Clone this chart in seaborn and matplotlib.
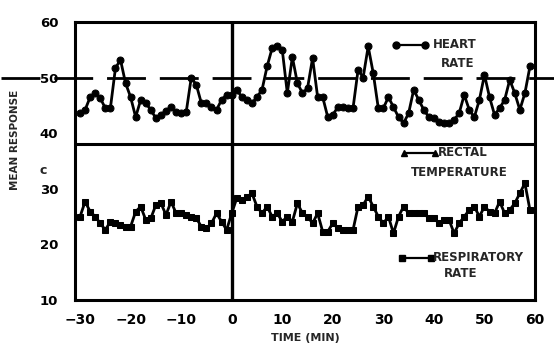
import matplotlib
matplotlib.use("Agg")
import matplotlib.pyplot as plt
import seaborn as sns
import pandas as pd

# minutes relative to start (min)
minutes = list(range(-30, 60))

# heart rate, -30..-1 then 0..59
heart_rate = [43.6, 44.2, 46.5, 47.2, 46.3, 44.5, 44.5, 51.7, 53.2, 49.0,
              46.5, 42.9, 46.0, 45.4, 44.2, 42.7, 43.3, 44.0, 44.7, 43.8,
              43.6, 43.8, 50.0, 48.7, 45.4, 45.4, 44.8, 44.2, 46.0, 46.9,
              46.9, 47.8, 46.5, 46.0, 45.4, 46.5, 47.8, 52.0, 55.3, 55.6,
              55.0, 47.2, 53.7, 49.0, 47.2, 48.1, 53.5, 46.5, 46.5, 42.9,
              43.3, 44.7, 44.7, 44.5, 44.5, 51.4, 50.0, 55.6, 50.8, 44.5,
              44.5, 46.5, 44.7, 42.9, 41.8, 43.6, 47.8, 46.0, 44.2, 42.9,
              42.7, 42.0, 41.8, 41.8, 42.4, 43.6, 46.9, 44.2, 42.9, 46.0,
              50.5, 46.5, 43.3, 44.5, 46.0, 49.6, 47.2, 44.2, 47.2, 52.0]

# respiratory rate, same minutes
resp_rate = [25.0, 27.7, 25.9, 25.0, 23.8, 22.6, 24.1, 23.8, 23.5, 23.2,
             23.2, 25.9, 26.8, 24.4, 24.7, 27.1, 27.4, 25.3, 27.7, 25.6,
             25.6, 25.3, 25.0, 24.7, 23.2, 22.9, 23.8, 25.6, 24.1, 22.6,
             25.6, 28.3, 28.0, 28.5, 29.2, 26.8, 25.6, 26.8, 25.0, 25.6,
             24.1, 25.0, 24.1, 27.4, 25.6, 25.0, 23.8, 25.6, 22.3, 22.3,
             23.8, 22.9, 22.6, 22.6, 22.6, 26.8, 27.1, 28.6, 26.8, 25.0,
             23.8, 25.0, 22.0, 25.0, 26.8, 25.6, 25.6, 25.6, 25.6, 24.7,
             24.7, 23.8, 24.4, 24.4, 22.0, 23.8, 25.0, 26.2, 26.8, 25.0,
             26.8, 25.9, 25.6, 27.7, 25.6, 26.2, 27.4, 29.2, 31.0, 26.2]

x_ticks = [-30, -20, -10, 0, 10, 20, 30, 40, 50, 60]
y_ticks = [10, 20, 30, 40, 50, 60]
ref_line = 50      # dashed reference for heart rate
split_line = 38    # panel divider

sns.set_style("white")
plt.rcParams["font.family"] = ["DejaVu Sans"]
W = "bold"

df = pd.DataFrame({"t": minutes, "hr": heart_rate, "rr": resp_rate})

fig = plt.figure(figsize=(5.54, 3.51), dpi=100)
ax = fig.add_axes([75 / 554, 51 / 351, 460 / 554, 278 / 351])

sns.lineplot(data=df, x="t", y="hr", ax=ax, color="black", lw=2,
             marker="o", markersize=5, markeredgecolor="black")
sns.lineplot(data=df, x="t", y="rr", ax=ax, color="black", lw=2,
             marker="s", markersize=4.6, markeredgecolor="black")

# frame pieces
ax.axvline(0, color="black", lw=2.4)
ax.axhline(split_line, color="black", lw=2.2)
ax.plot([-0.16, 1.06], [ref_line, ref_line], color="black", lw=2,
        dashes=(14, 5), transform=ax.get_yaxis_transform(), clip_on=False)

ax.set_xlim(-31, 60)
ax.set_ylim(10, 60)
ax.set_xticks(x_ticks)
ax.set_yticks(y_ticks)
ax.set_xticklabels([f"\u2212{abs(v)}" if v < 0 else str(v) for v in x_ticks],
                   fontsize=10, fontweight=W)
ax.set_yticklabels([str(v) for v in y_ticks], fontsize=9.5, fontweight=W)
ax.tick_params(axis="both", direction="in", length=3, width=1.5, colors="black")
ax.tick_params(axis="y", pad=12)
ax.tick_params(axis="x", pad=9)
for s in ax.spines.values():
    s.set_visible(True)
    s.set_color("black")
    s.set_linewidth(2.2)
ax.set_xlabel("")
ax.set_ylabel("")

fig.text(305 / 554, 1 - 338 / 351, "TIME (MIN)", ha="center", va="center",
         fontsize=8, fontweight=W)
fig.text(15 / 554, 1 - 140 / 351, "MEAN RESPONSE", ha="center", va="center",
         rotation=90, fontsize=7.5, fontweight=W)
fig.text(43 / 554, 1 - 170 / 351, "c", ha="center", va="center",
         fontsize=9, fontweight=W)

# legend keys drawn as in the original
ax.plot([32.5, 38.2], [55.9, 55.9], color="black", lw=1.6, marker="o",
        markersize=5, clip_on=False)
ax.text(39.8, 55.9, "HEART", fontsize=8.5, fontweight=W, va="center")
ax.text(44.6, 52.6, "RATE", fontsize=8.5, fontweight=W, va="center", ha="center")

ax.plot([34.0, 40.2], [36.5, 36.5], color="black", lw=1.6, marker="^",
        markersize=5, clip_on=False)
ax.text(40.8, 36.6, "RECTAL", fontsize=8.5, fontweight=W, va="center")
ax.text(45.0, 33.0, "TEMPERATURE", fontsize=8.5, fontweight=W,
        va="center", ha="center")

ax.plot([33.7, 39.4], [17.6, 17.6], color="black", lw=1.6, marker="s",
        markersize=4.6, clip_on=False)
ax.text(39.8, 17.7, "RESPIRATORY", fontsize=8.5, fontweight=W, va="center")
ax.text(45.2, 14.7, "RATE", fontsize=8.5, fontweight=W, va="center", ha="center")

fig.savefig("out.png", dpi=100)
